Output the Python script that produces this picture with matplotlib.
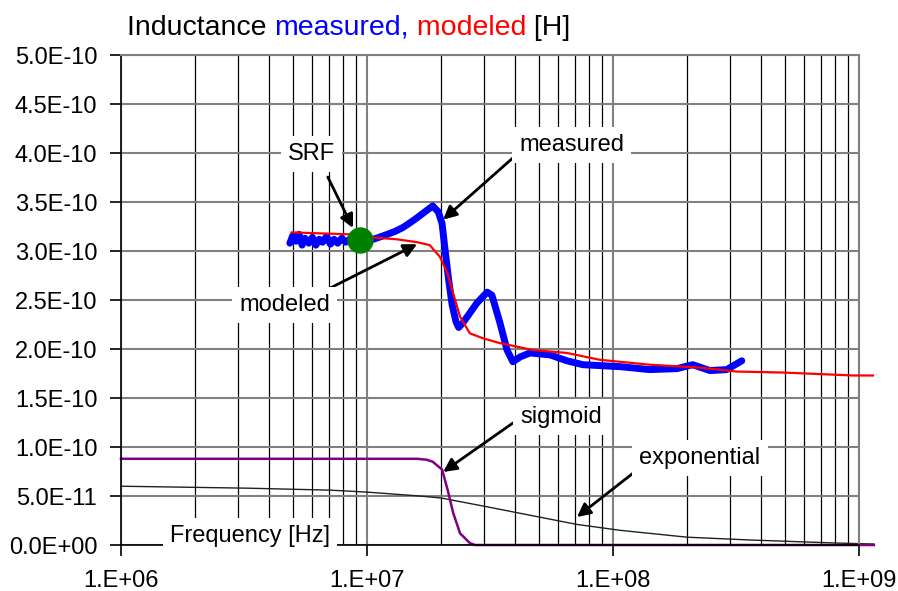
import numpy as np
import matplotlib
matplotlib.use("Agg")
import matplotlib.pyplot as plt
from matplotlib.ticker import FixedLocator, LogLocator, FuncFormatter, NullFormatter

plt.rcParams['font.family'] = ['Liberation Sans', 'DejaVu Sans']

# === data (frequency in Hz, inductance in 1e-10 H) ===
meas_f = [4.86e6, 5.0e6, 5.15e6, 5.3e6, 5.45e6, 5.6e6, 5.8e6, 6.0e6, 6.2e6, 6.4e6,
          6.6e6, 6.85e6, 7.1e6, 7.35e6, 7.6e6, 7.9e6, 8.2e6, 8.5e6, 8.8e6, 9.1e6,
          9.4e6, 1.03e7, 1.12e7, 1.21e7, 1.30e7, 1.40e7, 1.50e7, 1.60e7, 1.72e7, 1.85e7,
          1.95e7, 2.02e7, 2.08e7, 2.15e7, 2.22e7, 2.30e7, 2.36e7, 2.46e7, 2.80e7, 3.08e7,
          3.22e7, 3.47e7, 3.71e7, 3.92e7, 4.2e7, 4.6e7, 5.55e7, 6.5e7, 7.55e7, 1.07e8,
          1.41e8, 1.82e8, 2.11e8, 2.48e8, 2.90e8, 3.34e8]
meas_L = [3.08, 3.16, 3.10, 3.17, 3.06, 3.13, 3.08, 3.14, 3.06, 3.12,
          3.09, 3.15, 3.07, 3.12, 3.08, 3.13, 3.09, 3.12, 3.10, 3.11,
          3.10, 3.11, 3.14, 3.17, 3.20, 3.24, 3.29, 3.34, 3.40, 3.46,
          3.40, 3.28, 3.00, 2.70, 2.45, 2.28, 2.22, 2.27, 2.47, 2.58,
          2.55, 2.27, 1.99, 1.87, 1.92, 1.96, 1.94, 1.88, 1.84, 1.82,
          1.79, 1.80, 1.84, 1.78, 1.79, 1.88]

model_f = [4.95e6, 8.53e6, 1.03e7, 1.32e7, 1.60e7, 1.80e7, 1.98e7, 2.12e7, 2.24e7, 2.39e7,
           2.62e7, 2.96e7, 3.47e7, 4.73e7, 6.5e7, 8.85e7, 1.41e8, 2.26e8, 3.19e8, 4.91e8,
           9.46e8, 1.14e9]
model_L = [3.19, 3.17, 3.14, 3.12, 3.09, 3.06, 2.94, 2.78, 2.57, 2.33,
           2.16, 2.11, 2.06, 1.99, 1.96, 1.89, 1.84, 1.81, 1.77, 1.76,
           1.73, 1.73]

sig_f = [1e6, 1.60e7, 1.75e7, 1.85e7, 2.02e7, 2.13e7, 2.24e7, 2.39e7, 2.62e7, 2.75e7, 1.15e9]
sig_L = [0.88, 0.88, 0.87, 0.85, 0.77, 0.56, 0.33, 0.12, 0.02, 0.0, 0.0]

exp_f = [1e6, 3.28e6, 7.07e6, 1e7, 1.64e7, 2.0e7, 3.08e7, 4.91e7, 7.14e7, 1.07e8,
         2.0e8, 3.71e8, 8.15e8, 1.15e9]
exp_L = [0.60, 0.58, 0.56, 0.54, 0.50, 0.48, 0.39, 0.29, 0.21, 0.15,
         0.08, 0.05, 0.02, 0.01]

srf_f = 9.37e6
srf_L = 3.11

yticks = np.arange(0, 5.01, 0.5) * 1e-10

scale = 1e-10

fig = plt.figure(figsize=(8.98, 5.91), dpi=100)
ax = fig.add_axes([0.1347, 0.0778, 0.8218, 0.8291])

ax.set_xscale('log')
ax.set_xlim(1e6, 1e9)
ax.set_ylim(0, 5e-10)

# grid
ax.xaxis.set_major_locator(FixedLocator([1e6, 1e7, 1e8, 1e9]))
ax.xaxis.set_minor_locator(LogLocator(base=10, subs=np.arange(2, 10)))
ax.xaxis.set_minor_formatter(NullFormatter())
ax.set_yticks(yticks)
ax.grid(True, which='major', axis='both', color='#808080', lw=1.5, zorder=0)
ax.grid(True, which='minor', axis='x', color='black', lw=0.9, zorder=0)
ax.set_axisbelow(True)

ax.xaxis.set_major_formatter(FuncFormatter(lambda v, p: '%#.0E' % v))
ax.yaxis.set_major_formatter(FuncFormatter(lambda v, p: '%.1E' % v))
ax.tick_params(axis='both', which='major', labelsize=17, length=8, width=1.2, color='black')
ax.tick_params(axis='x', which='major', pad=10)
ax.tick_params(axis='y', which='major', pad=9)
ax.tick_params(axis='x', which='minor', length=0)

for s in ['top', 'right']:
    ax.spines[s].set_color('#808080')
    ax.spines[s].set_linewidth(1.5)
ax.spines['left'].set_linewidth(1.2)
ax.spines['bottom'].set_linewidth(1.2)

# curves (they run past the right edge like in the original)
ax.plot(exp_f, np.array(exp_L) * scale, color='#202020', lw=1.0, clip_on=False, zorder=2)
ax.plot(sig_f, np.array(sig_L) * scale, color='#800080', lw=1.8, clip_on=False, zorder=2)
ax.plot(meas_f, np.array(meas_L) * scale, color='#0000FF', lw=5, solid_capstyle='round',
        solid_joinstyle='round', zorder=3)
ax.plot(model_f, np.array(model_L) * scale, color='#FF0000', lw=1.6, clip_on=False, zorder=4)
ax.plot([srf_f], [srf_L * scale], 'o', color='#008000', ms=18, zorder=5)

# labels with arrows
box = dict(boxstyle='square,pad=0.3', fc='white', ec='none')
arrow = dict(arrowstyle='-|>', color='black', lw=2, mutation_scale=20, shrinkA=0, shrinkB=0)
labels = [
    ('SRF', (5.97e6, 3.99), (6.93e6, 3.755), (8.77e6, 3.235)),
    ('measured', (6.81e7, 4.08), (3.92e7, 3.95), (2.04e7, 3.32)),
    ('modeled', (4.64e6, 2.45), (6.93e6, 2.61), (1.60e7, 3.07)),
    ('sigmoid', (6.15e7, 1.306), (3.92e7, 1.245), (2.04e7, 0.745)),
    ('exponential', (2.26e8, 0.888), (1.21e8, 0.735), (7.14e7, 0.286)),
]
for txt, tpos, start, tip in labels:
    ax.annotate('', xy=(tip[0], tip[1] * scale), xytext=(start[0], start[1] * scale),
                arrowprops=arrow, zorder=6)
    ax.text(tpos[0], tpos[1] * scale, txt, fontsize=17, ha='center', va='center',
            bbox=box, zorder=7)

ax.text(0.175, 0.018, 'Frequency [Hz]', transform=ax.transAxes, fontsize=17,
        ha='center', va='center', bbox=box, zorder=7)

# title in three colours
parts = [('Inductance ', 'black'), ('measured,', '#0000FF'), (' modeled', '#FF0000'), (' [H]', 'black')]
renderer = fig.canvas.get_renderer()
x = 127 / 898
for s, c in parts:
    t = fig.text(x, 1 - 35 / 591, s, color=c, fontsize=20.5, ha='left', va='baseline')
    bb = t.get_window_extent(renderer=renderer)
    x += bb.width / fig.bbox.width

fig.savefig('out.png', dpi=100)
